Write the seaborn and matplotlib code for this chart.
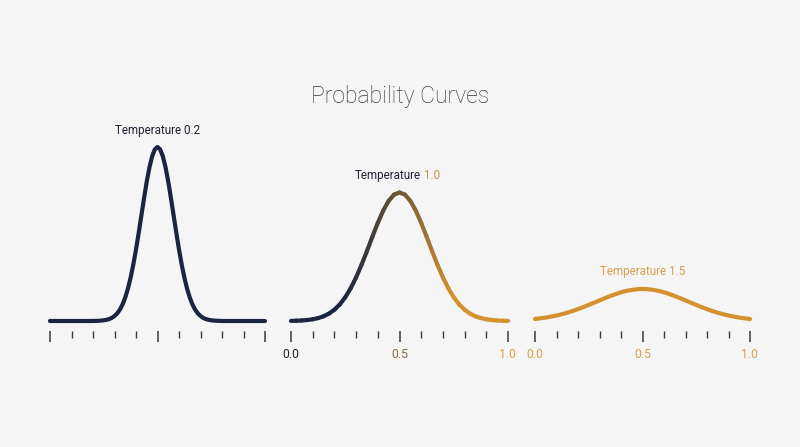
import numpy as np
import pandas as pd
import matplotlib
matplotlib.use("Agg")
import matplotlib.pyplot as plt
import seaborn as sns
from matplotlib.collections import LineCollection
from matplotlib.colors import LinearSegmentedColormap
from matplotlib.ticker import MultipleLocator

# --- values (curve heights, arbitrary units) ---
x_t02 = [0.0, 0.1, 0.2, 0.2125, 0.225, 0.2375, 0.25, 0.2625, 0.275, 0.2875,
         0.3, 0.3125, 0.325, 0.3375, 0.35, 0.3625, 0.375, 0.3875, 0.4, 0.4125,
         0.425, 0.4375, 0.45, 0.4625, 0.475, 0.4875, 0.5, 0.5125, 0.525, 0.5375,
         0.55, 0.5625, 0.575, 0.5875, 0.6, 0.6125, 0.625, 0.6375, 0.65, 0.6625,
         0.675, 0.6875, 0.7, 0.7125, 0.725, 0.7375, 0.75, 0.7625, 0.775, 0.7875,
         0.8, 0.9, 1.0]
y_t02 = [0.0, 0.0, 0.0, 0.001, 0.002, 0.004, 0.007, 0.012, 0.019, 0.031,
         0.050, 0.076, 0.114, 0.166, 0.235, 0.324, 0.434, 0.565, 0.715, 0.881,
         1.055, 1.229, 1.394, 1.536, 1.646, 1.716, 1.740, 1.716, 1.646, 1.536,
         1.394, 1.229, 1.055, 0.881, 0.715, 0.565, 0.434, 0.324, 0.235, 0.166,
         0.114, 0.076, 0.050, 0.031, 0.019, 0.012, 0.007, 0.004, 0.002, 0.001,
         0.0, 0.0, 0.0]

x_t10 = [0.0, 0.025, 0.05, 0.075, 0.1, 0.125, 0.15, 0.175, 0.2, 0.225,
         0.25, 0.275, 0.3, 0.325, 0.35, 0.375, 0.4, 0.425, 0.45, 0.475,
         0.5, 0.525, 0.55, 0.575, 0.6, 0.625, 0.65, 0.675, 0.7, 0.725,
         0.75, 0.775, 0.8, 0.825, 0.85, 0.875, 0.9, 0.925, 0.95, 0.975, 1.0]
y_t10 = [0.001, 0.003, 0.005, 0.010, 0.017, 0.029, 0.047, 0.074, 0.113, 0.166,
         0.237, 0.327, 0.436, 0.562, 0.699, 0.843, 0.981, 1.104, 1.201, 1.264,
         1.285, 1.264, 1.201, 1.104, 0.981, 0.843, 0.699, 0.562, 0.436, 0.327,
         0.237, 0.166, 0.113, 0.074, 0.047, 0.029, 0.017, 0.010, 0.005, 0.003, 0.001]

x_t15 = x_t10
y_t15 = [0.020, 0.027, 0.034, 0.044, 0.055, 0.068, 0.083, 0.100, 0.119, 0.139,
         0.161, 0.183, 0.206, 0.228, 0.250, 0.269, 0.287, 0.301, 0.311, 0.318,
         0.320, 0.318, 0.311, 0.301, 0.287, 0.269, 0.250, 0.228, 0.206, 0.183,
         0.161, 0.139, 0.119, 0.100, 0.083, 0.068, 0.055, 0.044, 0.034, 0.027, 0.020]

label_ticks = [0.0, 0.5, 1.0]
label_text = ["0.0", "0.5", "1.0"]

NAVY = "#1b2440"
ORANGE = "#d4922e"
LABEL_OR = "#dc9f4c"
TAN = "#c0955a"
BROWN = "#8a6d47"
BG = "#f5f5f5"
TICK = "#3a3a3a"
TEXT = "#1f2233"

sns.set_theme(style="white", rc={"figure.facecolor": BG, "axes.facecolor": BG})
plt.rcParams["font.family"] = ["Roboto", "DejaVu Sans"]

fig = plt.figure(figsize=(8, 4.47), dpi=100)
W, H = 800, 447

def make_ax(left_px, width_px=216):
    # value 0 sits at pixel row 321, 1 unit = 100 px
    ax = fig.add_axes([left_px / W, (H - 321) / H, width_px / W, 174 / H])
    ax.set_xlim(0, 1)
    ax.set_ylim(0, 1.74)
    for s in ["top", "left", "right"]:
        ax.spines[s].set_visible(False)
    ax.spines["bottom"].set_position(("outward", 7.2))
    ax.spines["bottom"].set_color("none")
    ax.set_yticks([])
    ax.set_xticks(label_ticks)
    ax.xaxis.set_minor_locator(MultipleLocator(0.1))
    ax.tick_params(axis="x", which="major", bottom=True, length=8, width=1.1,
                   color=TICK, pad=4, labelsize=8.8)
    ax.tick_params(axis="x", which="minor", bottom=True, length=5, width=1.0, color=TICK)
    ax.patch.set_alpha(0)
    return ax

ax1 = make_ax(50, 215)
ax2 = make_ax(291, 217)
ax3 = make_ax(535, 215)

# panel 1: temperature 0.2
df1 = pd.DataFrame({"x": x_t02, "y": y_t02})
sns.lineplot(data=df1, x="x", y="y", ax=ax1, color=NAVY, linewidth=3,
             solid_capstyle="round", clip_on=False)
ax1.set_xticklabels([])
ax1.text(0.5, 1.91, "Temperature 0.2", ha="center", va="center",
         fontsize=8.4, color=TEXT)

# panel 2: temperature 1.0, colour fades from navy to orange
cmap = LinearSegmentedColormap.from_list("t", [NAVY, NAVY, "#6a5535", ORANGE, ORANGE])
pts = np.column_stack([x_t10, y_t10]).reshape(-1, 1, 2)
segs = np.concatenate([pts[:-1], pts[1:]], axis=1)
mids = (np.array(x_t10[:-1]) + np.array(x_t10[1:])) / 2
lc = LineCollection(segs, cmap=cmap, linewidth=3, capstyle="round", clip_on=False)
lc.set_array(mids)
lc.set_clim(0, 1)
ax2.add_collection(lc)
ax2.set_xticklabels(label_text)
t = ax2.text(0.6, 1.46, "Temperature", ha="right", va="center",
             fontsize=8.4, color=TEXT)
ax2.annotate(" 1.0", xy=(1, 0.5), xycoords=t, ha="left", va="center",
             fontsize=8.4, color=TAN)

# panel 3: temperature 1.5
df3 = pd.DataFrame({"x": x_t15, "y": y_t15})
sns.lineplot(data=df3, x="x", y="y", ax=ax3, color=ORANGE, linewidth=3,
             solid_capstyle="round", clip_on=False)
ax3.set_xticklabels(label_text)
ax3.text(0.5, 0.50, "Temperature 1.5", ha="center", va="center",
         fontsize=8.4, color=LABEL_OR)

for ax in [ax1, ax2, ax3]:
    ax.set_xlabel("")
    ax.set_ylabel("")
    ax.xaxis.get_major_ticks()[2].tick1line.set_color(ORANGE)

lab2 = ax2.get_xticklabels()
lab2[0].set_color("#222222")
lab2[1].set_color(BROWN)
lab2[2].set_color(LABEL_OR)
for lab in ax3.get_xticklabels():
    lab.set_color(LABEL_OR)

fig.text(0.5, (H - 97) / H, "Probability Curves", ha="center", va="center",
         fontsize=16.6, fontweight="light", color="#3a3a3a")

fig.savefig("out.png", dpi=100, facecolor=BG)
